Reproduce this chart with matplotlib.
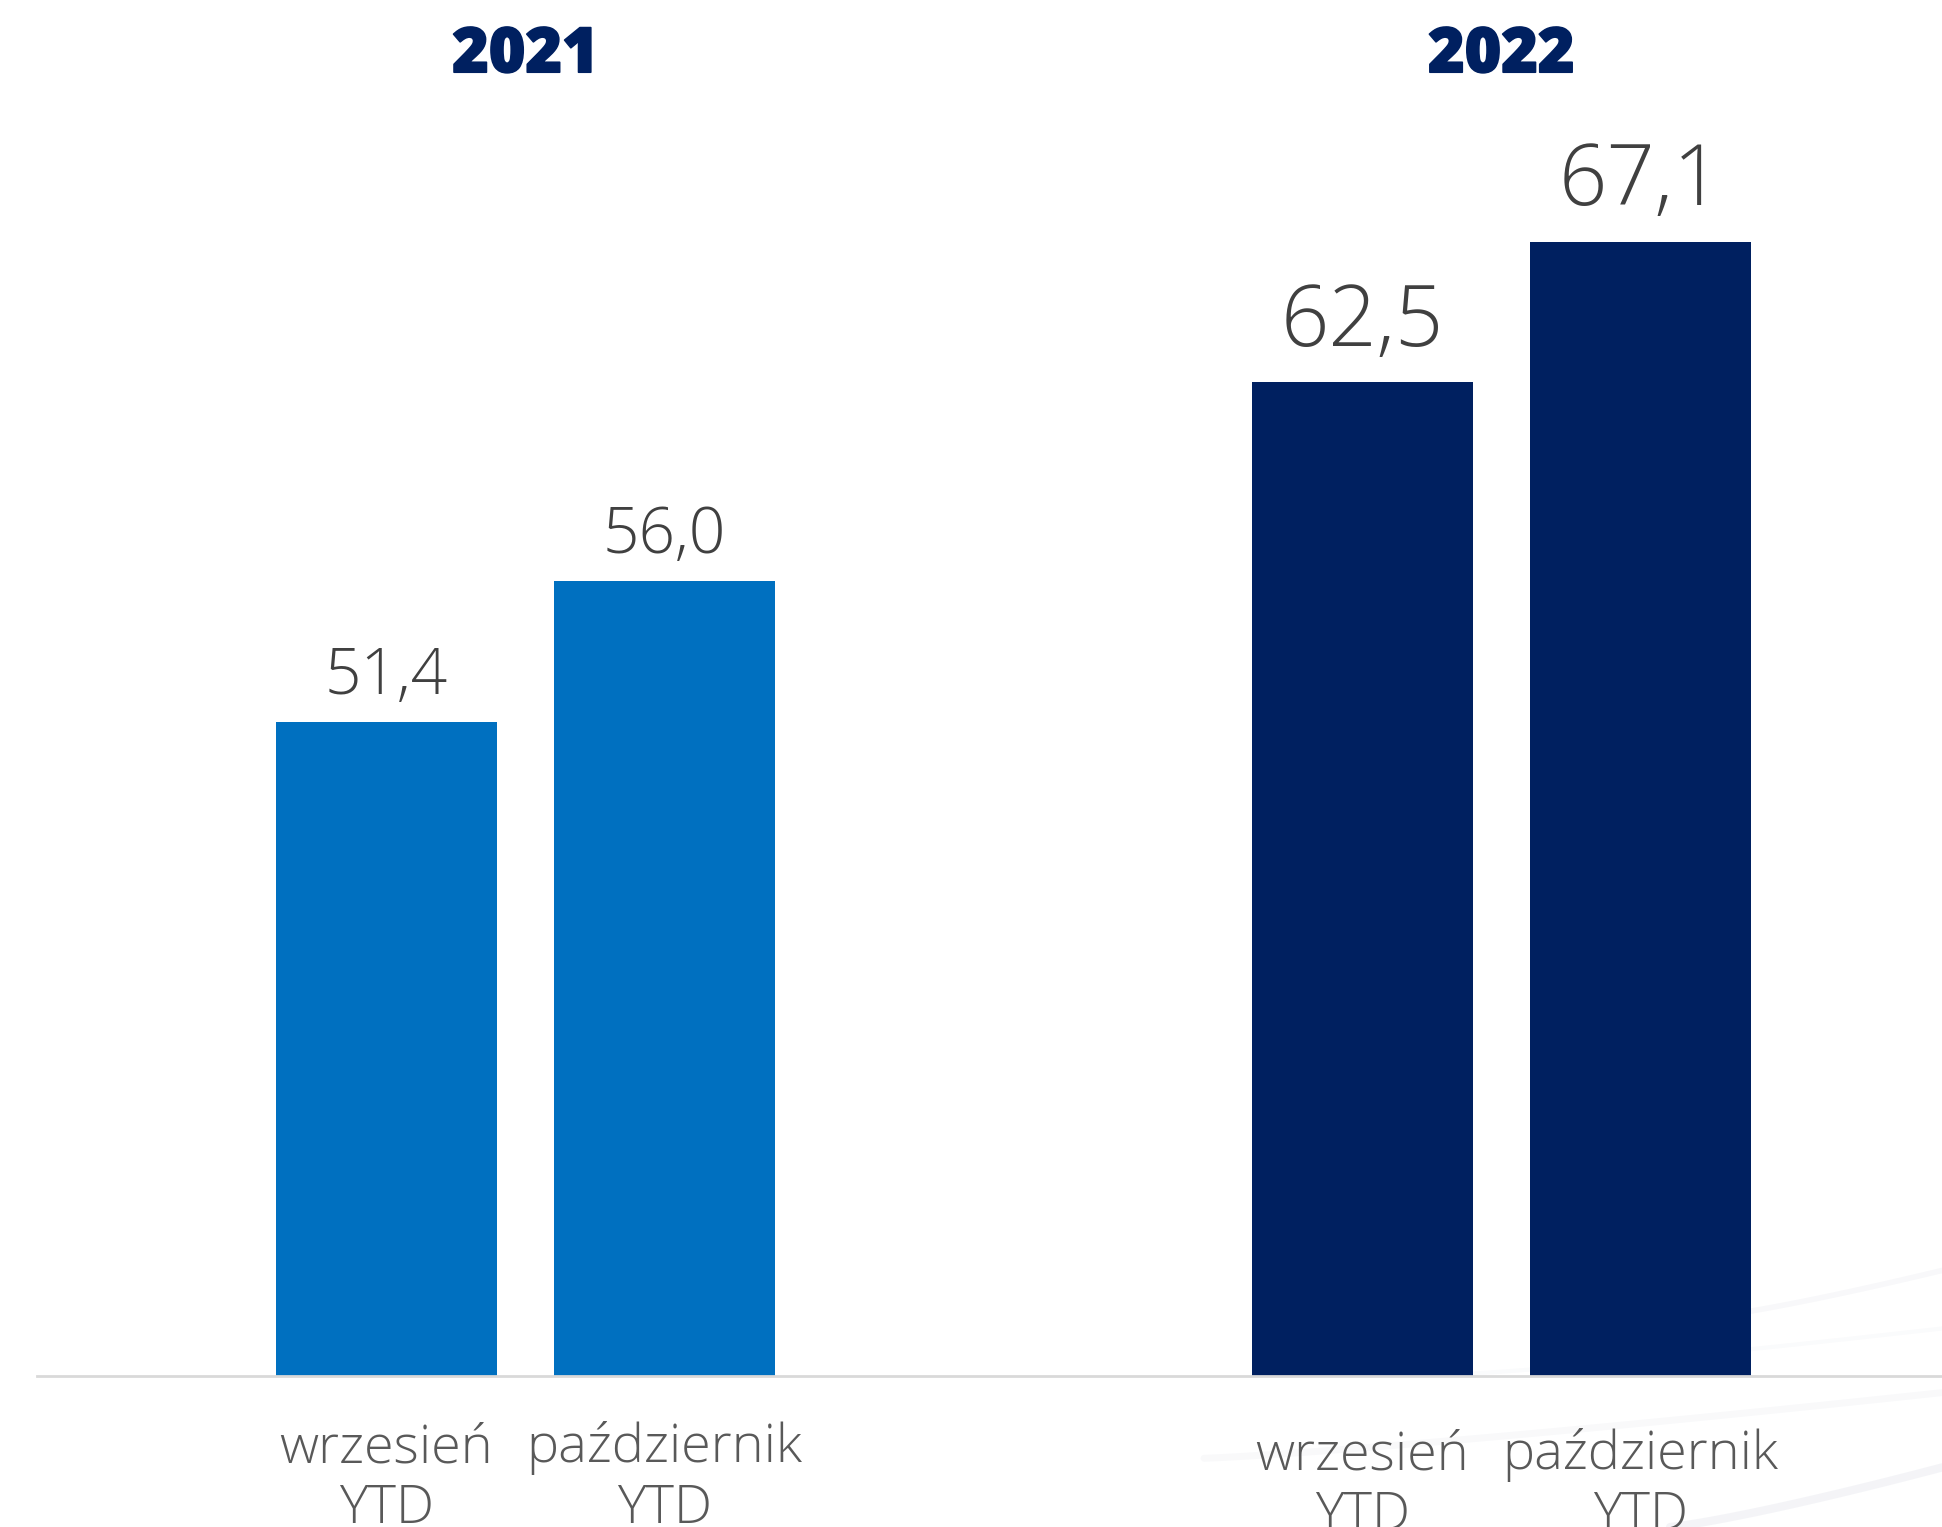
import matplotlib
matplotlib.use("Agg")
import matplotlib.pyplot as plt
from matplotlib.lines import Line2D
import matplotlib.patheffects as pe
import numpy as np

# ---- data ----
years = ["2021", "2022"]
months = ["wrzesień\nYTD", "październik\nYTD"]
values_2021 = [51.4, 56.0]
values_2022 = [62.5, 67.1]
labels_2021 = ["51,4", "56,0"]
labels_2022 = ["62,5", "67,1"]

# ---- style ----
c2021 = "#0070C0"
c2022 = "#002060"
val_col = "#404040"
tick_col = "#595959"

W, H = 1942, 1527
fig = plt.figure(figsize=(W / 100, H / 100), dpi=100)
fig.patch.set_facecolor("white")

# faint decorative swooshes (background, bottom-right)
for (x0, y0, x1, y1, a, lw) in [(0.88, 0.1375, 1.0, 0.168, 0.06, 4),
                                (0.62, 0.045, 1.0, 0.088, 0.05, 5),
                                (0.86, 0.0, 1.0, 0.039, 0.09, 6),
                                (0.75, 0.10, 1.0, 0.13, 0.035, 3)]:
    xs = np.linspace(x0, x1, 50)
    ys = y0 + (y1 - y0) * ((xs - x0) / (x1 - x0)) ** 1.2
    fig.add_artist(Line2D(xs, ys, transform=fig.transFigure, color="#8a90b0",
                          alpha=a, lw=lw, solid_capstyle="round", zorder=0))

left = 37 / W
bottom = (H - 1376) / H
ax = fig.add_axes([left, bottom, 1 - left, 1 - bottom])
ax.set_facecolor("none")

pos_2021 = np.array([0.0, 1.0])
pos_2022 = np.array([3.51, 4.51])
width = 0.795

ax.bar(pos_2021, values_2021, width=width, bottom=0, color=c2021, zorder=2)
ax.bar(pos_2022, values_2022, width=width, bottom=0, color=c2022, zorder=2)

ax.set_ylim(30, 75)
ax.set_xlim(-1.257, 5.595)

for s in ["top", "right", "left"]:
    ax.spines[s].set_visible(False)
ax.spines["bottom"].set_color("#D9D9D9")
ax.spines["bottom"].set_linewidth(2)
ax.spines["bottom"].set_zorder(3)
ax.set_yticks([])
ax.set_xticks([])

fam = ["Open Sans", "DejaVu Sans"]

# value labels
for x, v, t in zip(pos_2021, values_2021, labels_2021):
    ax.annotate(t, (x, v), xytext=(0, 20), textcoords="offset points",
                ha="center", va="baseline", fontsize=46, color=val_col,
                family=fam, fontweight="light")
for x, v, t in zip(pos_2022, values_2022, labels_2022):
    ax.annotate(t, (x, v), xytext=(0, 26), textcoords="offset points",
                ha="center", va="baseline", fontsize=61, color=val_col,
                family=fam, fontweight="light")

# category labels
for x, t in zip(pos_2021, months):
    ax.annotate(t, (x, 30), xytext=(0, -106), textcoords="offset points",
                ha="center", va="baseline", fontsize=39, color=tick_col,
                family=fam, fontweight="light", linespacing=1.18,
                multialignment="center", annotation_clip=False)
for x, t in zip(pos_2022, months):
    ax.annotate(t, (x, 30), xytext=(0, -111), textcoords="offset points",
                ha="center", va="baseline", fontsize=39, color=tick_col,
                family=fam, fontweight="light", linespacing=1.18,
                multialignment="center", annotation_clip=False)

# year headers
for pos, yr in zip([pos_2021, pos_2022], years):
    ax.annotate(yr, (pos.mean(), 75), xytext=(0, -52), textcoords="offset points",
                ha="center", va="baseline", fontsize=45, color=c2022,
                family=fam, fontweight="heavy", annotation_clip=False,
                path_effects=[pe.withStroke(linewidth=1.2, foreground=c2022)])

fig.savefig("out.png", dpi=100, facecolor="white")
